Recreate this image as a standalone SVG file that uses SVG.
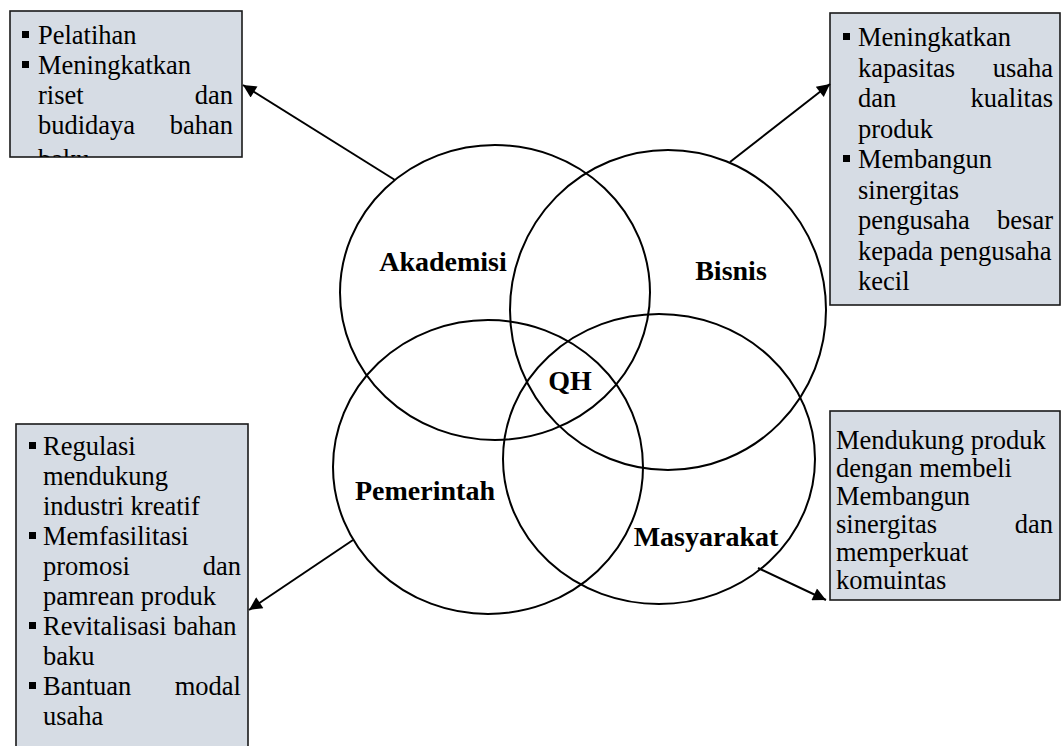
<svg xmlns="http://www.w3.org/2000/svg" width="1061" height="746" viewBox="0 0 1061 746">
<style>
.box{fill:#D6DCE4;stroke:#1a1a1a;stroke-width:1.6}
.t{font-family:"Liberation Serif","Times New Roman",serif;font-size:26.5px;fill:#000}
.e{text-anchor:end}
.lbl{font-family:"Liberation Serif","Times New Roman",serif;font-size:28px;font-weight:bold;fill:#000;text-anchor:middle}
.c{fill:none;stroke:#000;stroke-width:2}
.b{fill:#000}
.con{stroke:#000;stroke-width:2;fill:none;marker-end:url(#ah)}
</style>
<defs>
<marker id="ah" viewBox="0 0 10 10" refX="10" refY="5" markerUnits="userSpaceOnUse" markerWidth="17" markerHeight="13" orient="auto">
<path d="M0,0 L10,5 L0,10 z" fill="#000"/>
</marker>
<clipPath id="clipTL"><rect x="10" y="11" width="232" height="146"/></clipPath>
</defs>
<rect width="1061" height="746" fill="#fff"/>

<g id="circles">
<g id="akademisi"><ellipse class="c" cx="495" cy="292.5" rx="155" ry="147.5"/><text class="lbl" x="443" y="271">Akademisi</text></g>
<g id="bisnis"><ellipse class="c" cx="668" cy="310" rx="158" ry="160"/><text class="lbl" x="731" y="280">Bisnis</text></g>
<g id="pemerintah"><ellipse class="c" cx="488" cy="467" rx="155" ry="147"/><text class="lbl" x="425" y="500">Pemerintah</text></g>
<g id="masyarakat"><ellipse class="c" cx="659" cy="459" rx="156" ry="145"/><text class="lbl" x="706" y="546">Masyarakat</text></g>
<g id="qh"><text class="lbl" x="570" y="390">QH</text></g>
</g>

<g id="box-akademisi">
<rect class="box" x="10" y="11" width="232" height="146"/>
<g clip-path="url(#clipTL)">
<rect class="b" x="22" y="31" width="7" height="7"/>
<text class="t" x="38" y="44">Pelatihan</text>
<rect class="b" x="22" y="61" width="7" height="7"/>
<text class="t" x="38" y="74">Meningkatkan</text>
<text class="t" x="38" y="104">riset</text><text class="t e" x="233" y="104">dan</text>
<text class="t" x="38" y="134">budidaya</text><text class="t e" x="233" y="134">bahan</text>
<text class="t" x="38" y="168">baku</text>
</g>
</g>

<g id="box-bisnis">
<rect class="box" x="830" y="13" width="230" height="292"/>
<rect class="b" x="843" y="33" width="7" height="7"/>
<text class="t" x="858" y="46">Meningkatkan</text>
<text class="t" x="858" y="76.5">kapasitas</text><text class="t e" x="1053" y="76.5">usaha</text>
<text class="t" x="858" y="107">dan</text><text class="t e" x="1053" y="107">kualitas</text>
<text class="t" x="858" y="137.5">produk</text>
<rect class="b" x="843" y="155" width="7" height="7"/>
<text class="t" x="858" y="168">Membangun</text>
<text class="t" x="858" y="198.5">sinergitas</text>
<text class="t" x="858" y="229">pengusaha</text><text class="t e" x="1053" y="229">besar</text>
<text class="t" x="858" y="259.5">kepada pengusaha</text>
<text class="t" x="858" y="290">kecil</text>
</g>

<g id="box-pemerintah">
<rect class="box" x="16" y="424" width="232" height="330"/>
<rect class="b" x="29" y="442" width="7" height="7"/>
<text class="t" x="43" y="455">Regulasi</text>
<text class="t" x="43" y="485">mendukung</text>
<text class="t" x="43" y="515">industri kreatif</text>
<rect class="b" x="29" y="532" width="7" height="7"/>
<text class="t" x="43" y="545">Memfasilitasi</text>
<text class="t" x="43" y="575">promosi</text><text class="t e" x="241" y="575">dan</text>
<text class="t" x="43" y="605">pamrean produk</text>
<rect class="b" x="29" y="622" width="7" height="7"/>
<text class="t" x="43" y="635">Revitalisasi bahan</text>
<text class="t" x="43" y="665">baku</text>
<rect class="b" x="29" y="682" width="7" height="7"/>
<text class="t" x="43" y="695">Bantuan</text><text class="t e" x="241" y="695">modal</text>
<text class="t" x="43" y="725">usaha</text>
</g>

<g id="box-masyarakat">
<rect class="box" x="830" y="411" width="230" height="189"/>
<text class="t" x="836" y="449">Mendukung produk</text>
<text class="t" x="836" y="477">dengan membeli</text>
<text class="t" x="836" y="505">Membangun</text>
<text class="t" x="836" y="533">sinergitas</text><text class="t e" x="1053" y="533">dan</text>
<text class="t" x="836" y="561">memperkuat</text>
<text class="t" x="836" y="589">komuintas</text>
</g>

<g id="connectors">
<line class="con" x1="395" y1="180" x2="243" y2="85"/>
<line class="con" x1="730" y1="162" x2="830" y2="84"/>
<line class="con" x1="353" y1="540" x2="249" y2="610"/>
<line class="con" x1="758" y1="568" x2="826" y2="600"/>
</g>
</svg>
